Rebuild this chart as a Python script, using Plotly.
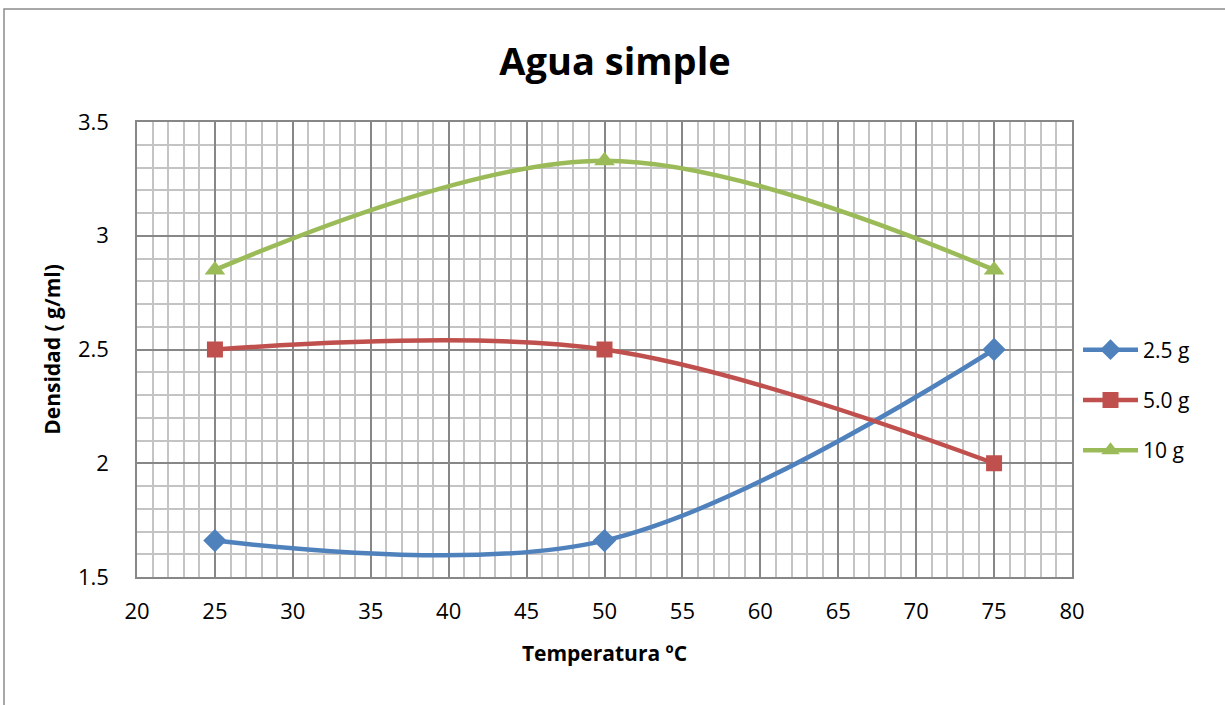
import plotly.graph_objects as go

temps = [25, 50, 75]
s25 = [1.66, 1.66, 2.5]
s50 = [2.5, 2.5, 2.0]
s10 = [2.85, 3.33, 2.85]
names = ["2.5 g", "5.0 g", "10 g"]
colors = ["#4F81BD", "#C0504D", "#9BBB59"]
symbols = ["diamond", "square", "triangle-up"]
series = [s25, s50, s10]

FONT = "Open Sans"
fig = go.Figure()
for i, (name, ys, c, sym) in enumerate(zip(names, series, colors, symbols)):
    fig.add_trace(go.Scatter(
        x=temps, y=ys, name=name, mode="lines+markers", legendgroup=f"g{i}",
        line=dict(color=c, width=4.5, shape="spline", smoothing=1.0),
        marker=dict(symbol=sym, size=18 if sym != "square" else 16, color=c),
    ))

W, H = 1225, 705
L, R, T, B = 137, 153, 122, 128
pw, ph = W - L - R, H - T - B

def px(x):
    return (x - L) / pw

def py(y):
    return (H - B - y) / ph

fig.add_shape(type="rect", xref="paper", yref="paper",
              x0=px(4), x1=px(1235), y0=py(715), y1=py(9),
              line=dict(color="#8c8c8c", width=1.5), fillcolor="rgba(0,0,0,0)", layer="below")

fig.update_layout(
    width=W, height=H,
    margin=dict(l=L, r=R, t=T, b=B),
    paper_bgcolor="white", plot_bgcolor="white",
    font=dict(family=FONT, color="black"),
    title=dict(text="<b>Agua simple</b>", x=(615) / W, xanchor="center",
               y=1 - 62 / H, yanchor="middle", font=dict(size=38, family=FONT)),
    legend=dict(x=px(1078), y=py(400), xanchor="left", yanchor="middle",
                font=dict(size=21, family=FONT), tracegroupgap=20, itemwidth=55,
                bgcolor="rgba(0,0,0,0)"),
    showlegend=True,
)
fig.update_xaxes(range=[20, 80], dtick=5, tick0=20,
                 showgrid=True, gridcolor="#878787", gridwidth=1.5,
                 minor=dict(dtick=1, showgrid=True, gridcolor="#c4c4c4", gridwidth=1.5),
                 showline=True, linecolor="#878787", linewidth=1.5, mirror=True,
                 ticks="", tickfont=dict(size=22), zeroline=False, ticklabelstandoff=14,
                 title=dict(text="<b>Temperatura ºC</b>", font=dict(size=21), standoff=22))
fig.update_yaxes(range=[1.5, 3.5], dtick=0.5, tick0=1.5,
                 showgrid=True, gridcolor="#878787", gridwidth=1.5,
                 minor=dict(dtick=0.1, showgrid=True, gridcolor="#c4c4c4", gridwidth=1.5),
                 showline=True, linecolor="#878787", linewidth=1.5, mirror=True,
                 ticks="", tickfont=dict(size=22), zeroline=False, tickformat="~g",
                 ticklabelstandoff=22,
                 title=dict(text="<b>Densidad ( g/ml)</b>", font=dict(size=21), standoff=12))

fig.write_html("out.html")
